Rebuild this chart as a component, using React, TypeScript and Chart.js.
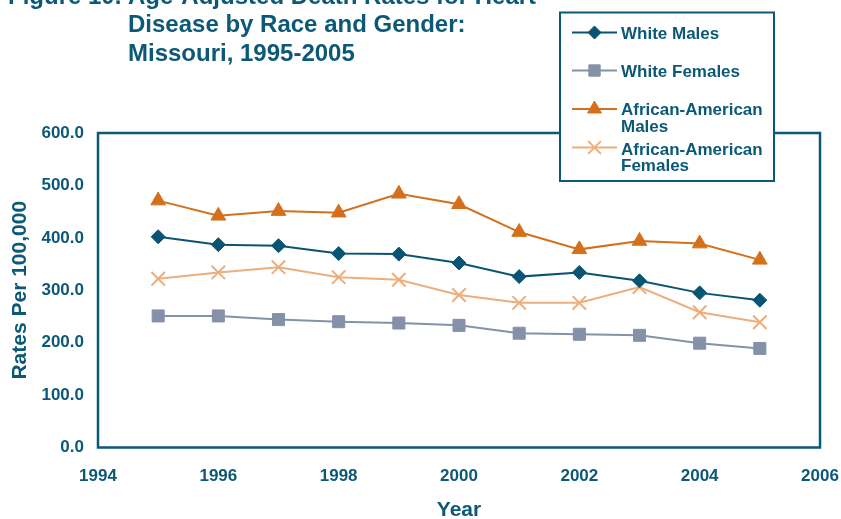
import React, { useEffect, useRef } from "react";
import { Chart, registerables } from "chart.js";
import { drawPoint } from "chart.js/helpers";

Chart.register(...registerables);

// ---- data ----
const years = [1995, 1996, 1997, 1998, 1999, 2000, 2001, 2002, 2003, 2004, 2005];
const whiteMales = [402, 387, 385, 370, 369, 352, 326, 334, 318, 295, 281];
const whiteFemales = [251, 251, 244, 240, 237.5, 233, 218, 216, 214, 199, 189];
const aaMales = [471, 442, 451, 448, 484, 464, 411, 378, 394, 389, 358];
const aaFemales = [322, 334, 344, 325, 320, 291, 276, 276, 306, 258, 239];

const xTicks = [1994, 1996, 1998, 2000, 2002, 2004, 2006];
const yTicks = [0, 100, 200, 300, 400, 500, 600];

const titleLines = [
  "Figure 10. Age-Adjusted Death Rates for Heart",
  "Disease by Race and Gender:",
  "Missouri, 1995-2005",
];
const yAxisTitle = "Rates Per 100,000";
const xAxisTitle = "Year";

// ---- styling ----
const TEAL = "#0B5877";
const FONT = '"Liberation Sans", Arial, Helvetica, sans-serif';

type SeriesStyle = {
  label: string[];
  values: number[];
  color: string;
  pointStyle: string;
  radius: number;
  pointBorderWidth: number;
};

const series: SeriesStyle[] = [
  { label: ["White Males"], values: whiteMales, color: "#0A5473", pointStyle: "rectRot", radius: 7, pointBorderWidth: 1 },
  { label: ["White Females"], values: whiteFemales, color: "#8491A9", pointStyle: "rect", radius: 8.5, pointBorderWidth: 1 },
  { label: ["African-American", "Males"], values: aaMales, color: "#D4701C", pointStyle: "triangle", radius: 8.5, pointBorderWidth: 1 },
  { label: ["African-American", "Females"], values: aaFemales, color: "#EBAE7E", pointStyle: "crossRot", radius: 9.5, pointBorderWidth: 2 },
];

// legend row positions (line y, first text line centre y)
const legendRows = [
  { lineY: 32.5, textY: 34 },
  { lineY: 70.5, textY: 72 },
  { lineY: 109, textY: 110.5 },
  { lineY: 147.5, textY: 150 },
];

const decorPlugin = {
  id: "decor",
  beforeDatasetsDraw(chart: any) {
    const { ctx, chartArea } = chart;
    ctx.save();
    ctx.strokeStyle = TEAL;
    ctx.lineWidth = 2.5;
    ctx.strokeRect(chartArea.left, chartArea.top, chartArea.right - chartArea.left, chartArea.bottom - chartArea.top);
    ctx.restore();
  },
  afterDraw(chart: any) {
    const { ctx, chartArea } = chart;
    ctx.save();

    // title
    ctx.fillStyle = TEAL;
    ctx.font = `bold 24px ${FONT}`;
    ctx.textAlign = "left";
    ctx.textBaseline = "alphabetic";
    ctx.fillText(titleLines[0], 8, 4);
    ctx.fillText(titleLines[1], 128, 32);
    ctx.fillText(titleLines[2], 128, 61);

    // axis titles
    ctx.font = `bold 21px ${FONT}`;
    ctx.textAlign = "center";
    ctx.textBaseline = "middle";
    ctx.fillText(xAxisTitle, (chartArea.left + chartArea.right) / 2, 510);
    ctx.save();
    ctx.translate(20, (chartArea.top + chartArea.bottom) / 2);
    ctx.rotate(-Math.PI / 2);
    ctx.fillText(yAxisTitle, 0, 0);
    ctx.restore();

    // legend box
    const bx = 560, by = 12.5, bw = 214, bh = 168.5;
    ctx.fillStyle = "#ffffff";
    ctx.fillRect(bx, by, bw, bh);
    ctx.strokeStyle = TEAL;
    ctx.lineWidth = 2;
    ctx.strokeRect(bx, by, bw, bh);

    series.forEach((s, i) => {
      const row = legendRows[i];
      ctx.strokeStyle = s.color;
      ctx.lineWidth = 2;
      ctx.beginPath();
      ctx.moveTo(572, row.lineY);
      ctx.lineTo(617, row.lineY);
      ctx.stroke();
      ctx.fillStyle = s.color;
      ctx.strokeStyle = s.color;
      ctx.lineWidth = s.pointBorderWidth;
      drawPoint(ctx, { pointStyle: s.pointStyle, radius: s.radius - 0.5, rotation: 0, borderWidth: s.pointBorderWidth } as any, 594.5, row.lineY);

      ctx.fillStyle = TEAL;
      ctx.font = `bold 17px ${FONT}`;
      ctx.textAlign = "left";
      ctx.textBaseline = "middle";
      s.label.forEach((t, j) => ctx.fillText(t, 621, row.textY + j * 16.5));
    });

    ctx.restore();
  },
};

export default function App() {
  const canvasRef = useRef<HTMLCanvasElement | null>(null);

  useEffect(() => {
    const canvas = canvasRef.current;
    if (!canvas) return;

    const chart = new Chart(canvas, {
      type: "line",
      data: {
        datasets: series.map((s) => ({
          label: s.label.join(" "),
          data: years.map((yr, i) => ({ x: yr, y: s.values[i] })),
          borderColor: s.color,
          backgroundColor: s.color,
          borderWidth: 2,
          pointStyle: s.pointStyle as any,
          pointRadius: s.radius,
          pointHoverRadius: s.radius,
          pointBackgroundColor: s.color,
          pointBorderColor: s.color,
          pointBorderWidth: s.pointBorderWidth,
          tension: 0,
          fill: false,
        })),
      },
      options: {
        animation: false,
        responsive: false,
        devicePixelRatio: 1,
        events: [],
        layout: { padding: { top: 133, right: 21, left: 0, bottom: 0 } },
        plugins: {
          legend: { display: false },
          title: { display: false },
          tooltip: { enabled: false },
        },
        scales: {
          x: {
            type: "linear",
            min: xTicks[0],
            max: xTicks[xTicks.length - 1],
            afterBuildTicks: (scale: any) => {
              scale.ticks = xTicks.map((v) => ({ value: v }));
            },
            ticks: {
              color: TEAL,
              font: { family: FONT, size: 17, weight: "bold" },
              padding: 19,
              maxRotation: 0,
              autoSkip: false,
              callback: (v: any) => String(v),
            },
            grid: { display: false, drawTicks: false },
            border: { display: false },
            afterFit: (scale: any) => {
              scale.height = 71.5;
              scale.paddingLeft = 0;
              scale.paddingRight = 0;
            },
          },
          y: {
            type: "linear",
            min: yTicks[0],
            max: yTicks[yTicks.length - 1],
            afterBuildTicks: (scale: any) => {
              scale.ticks = yTicks.map((v) => ({ value: v }));
            },
            ticks: {
              color: TEAL,
              font: { family: FONT, size: 17, weight: "bold" },
              padding: 14,
              autoSkip: false,
              callback: (v: any) => Number(v).toFixed(1),
            },
            grid: { display: false, drawTicks: false },
            border: { display: false },
            afterFit: (scale: any) => {
              scale.width = 98;
              scale.paddingTop = 0;
              scale.paddingBottom = 0;
            },
          },
        },
      },
      plugins: [decorPlugin],
    });

    return () => chart.destroy();
  }, []);

  return (
    <div style={{ position: "absolute", left: 0, top: 0, width: 841, height: 519, background: "#ffffff" }}>
      <canvas ref={canvasRef} width={841} height={519} style={{ display: "block", width: 841, height: 519 }} />
    </div>
  );
}
